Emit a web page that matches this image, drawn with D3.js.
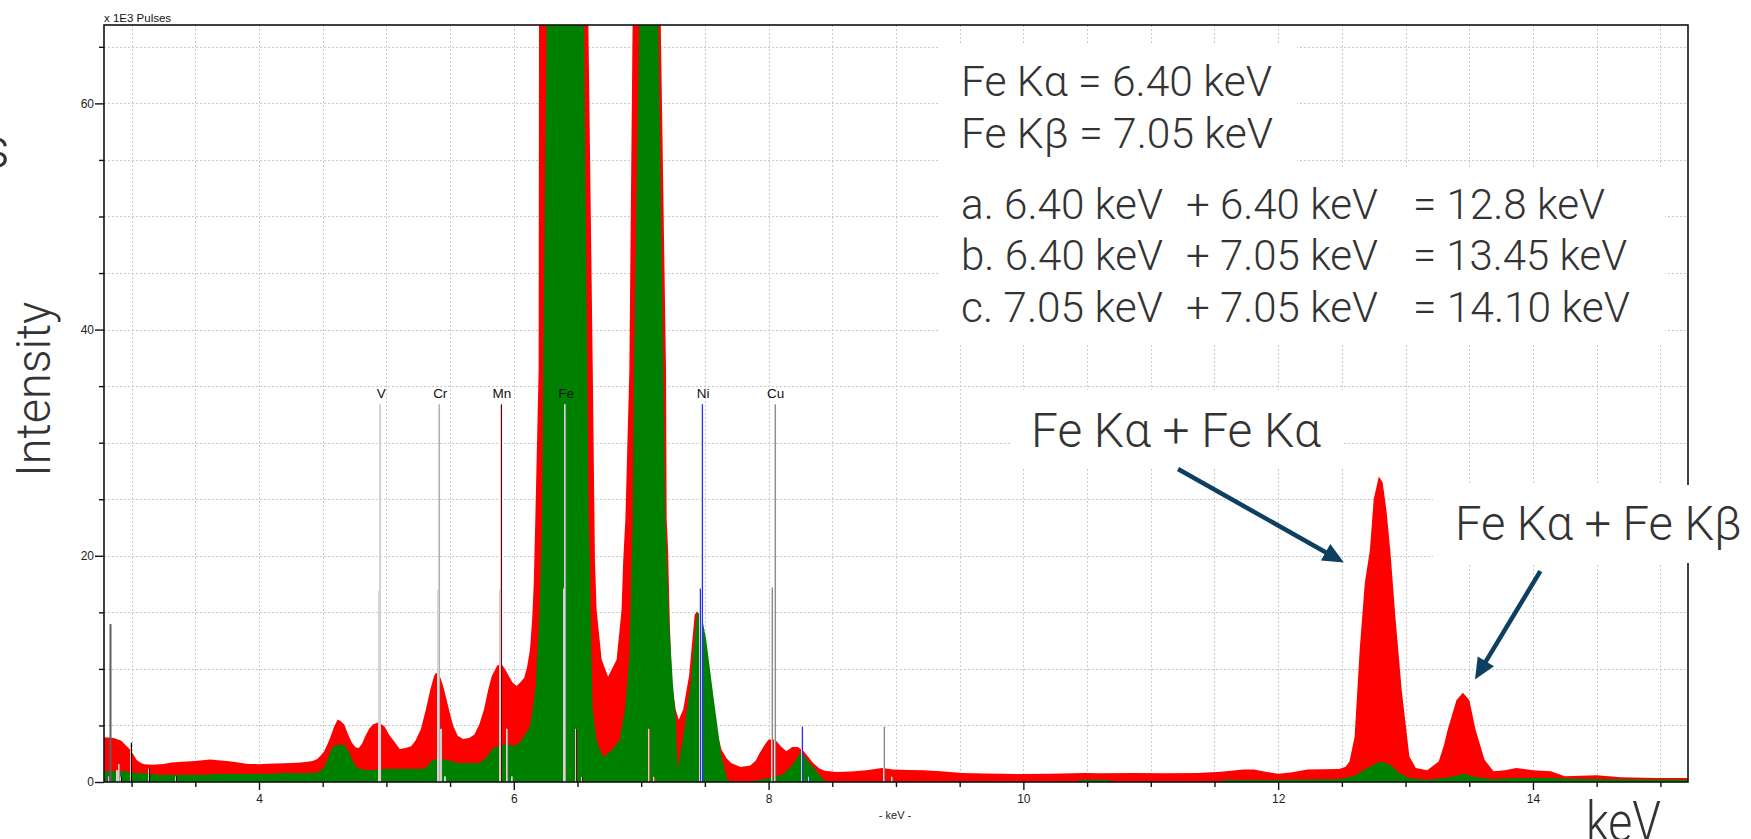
<!DOCTYPE html>
<html><head><meta charset="utf-8">
<script src="https://cdn.jsdelivr.net/npm/d3@7"></script>
<style>
html,body{margin:0;padding:0;background:#fff;overflow:hidden}
svg{display:block}
</style></head><body>
<svg id="chart" width="1751" height="839"></svg>
<script>
// ---------------- DATA ----------------
// Red spectrum (x 1E3 pulses)
const redKeV = [2.783,2.86,2.92,2.95,2.985,3.01,3.04,3.07,3.1,3.165,3.25,3.315,3.4,3.5,3.616,3.7,3.766,3.85,3.917,4.0,4.067,4.2,4.3,4.368,4.42,4.458,4.49,4.512,4.54,4.563,4.59,4.618,4.64,4.669,4.7,4.729,4.76,4.783,4.81,4.834,4.865,4.894,4.939,4.984,5.02,5.06,5.105,5.15,5.195,5.23,5.27,5.31,5.345,5.375,5.39,5.42,5.445,5.466,5.5,5.526,5.56,5.601,5.65,5.691,5.73,5.766,5.8,5.827,5.87,5.902,5.935,5.962,5.99,6.022,6.05,6.082,6.105,6.127,6.145,6.157,6.169,6.195,6.198,6.25,6.4,6.55,6.585,6.62,6.637,6.65,6.69,6.74,6.807,6.846,6.859,6.876,6.907,6.933,6.98,7.05,7.12,7.153,7.195,7.2,7.211,7.225,7.241,7.271,7.295,7.33,7.376,7.42,7.44,7.457,7.496,7.541,7.586,7.63,7.67,7.706,7.78,7.856,7.9,7.93,7.97,8.0,8.05,8.096,8.14,8.186,8.23,8.276,8.32,8.35,8.4,8.44,8.53,8.65,8.77,8.89,8.95,8.98,9.1,9.22,9.35,9.52,9.7,9.97,10.2,10.48,10.6,10.87,11.1,11.37,11.55,11.73,11.81,11.9,12.0,12.1,12.23,12.35,12.48,12.53,12.56,12.6,12.64,12.68,12.72,12.75,12.79,12.82,12.85,12.88,12.92,12.97,13.03,13.08,13.17,13.26,13.3,13.33,13.4,13.45,13.5,13.55,13.62,13.69,13.78,13.87,14.0,14.14,14.25,14.5,14.69,14.97,15.217];
const redCounts = [3.95,3.9,3.65,3.3,2.9,2.5,1.95,1.7,1.58,1.52,1.6,1.72,1.78,1.85,1.98,1.9,1.83,1.7,1.6,1.58,1.62,1.65,1.7,1.77,1.85,2.04,2.4,2.72,3.4,4.05,4.9,5.52,5.4,5.08,4.2,3.46,3.05,3.01,3.4,4.05,4.7,5.08,5.29,4.93,4.2,3.6,2.92,3.0,3.16,3.7,4.64,6.4,8.18,9.4,9.66,9.36,8.5,7.59,6.0,4.93,4.1,3.81,3.9,4.19,5.1,6.41,8.2,9.36,10.3,10.46,9.9,9.36,8.8,8.48,8.8,9.22,10.2,11.7,14.5,17.6,23.2,36.4,67.5,200,330,200,67.5,36.4,19.6,15.2,10.8,9.3,10.8,15.2,19.6,23.2,36.4,67.5,150,180,150,67.5,36.4,23.2,20.6,14,8.8,6.4,5.5,6.4,9.4,14.8,15.1,14.7,12.6,8.8,4.9,2.87,2.1,1.68,1.33,1.45,1.9,2.57,3.3,3.75,3.75,3.16,2.72,3.1,3.1,2.72,2.1,1.68,1.2,1.0,0.89,0.92,1.03,1.24,1.15,1.1,1.05,1.03,0.95,0.8,0.75,0.7,0.72,0.8,0.78,0.8,0.78,0.8,0.9,1.1,1.1,0.9,0.73,0.85,1.1,1.12,1.15,1.35,1.82,4.0,11.7,17.6,20.5,25,27,26.5,24,20.5,14.6,8.1,2.26,1.24,1.03,1.82,3.2,4.6,7.26,7.9,7.26,4.6,1.97,0.94,1.03,1.24,1.03,0.94,0.5,0.59,0.41,0.35,0.35];

// Green spectrum (x 1E3 pulses)
const greenKeV = [2.783,2.95,3.0,3.1,3.2,3.6,3.65,4.1,4.2,4.45,4.51,4.545,4.58,4.62,4.67,4.71,4.74,4.77,4.85,4.95,5.0,5.3,5.36,5.42,5.51,5.57,5.72,5.78,5.81,5.84,5.93,6.007,6.05,6.08,6.127,6.15,6.172,6.2,6.217,6.222,6.231,6.258,6.3,6.4,6.5,6.551,6.577,6.588,6.598,6.603,6.61,6.62,6.65,6.7,6.77,6.83,6.873,6.906,6.917,6.925,6.933,6.943,6.985,7.05,7.134,7.174,7.19,7.22,7.25,7.271,7.286,7.33,7.39,7.436,7.46,7.475,7.51,7.57,7.63,7.676,7.72,7.87,8.0,8.11,8.2,8.255,8.3,8.366,8.43,8.47,10.4,10.45,10.66,10.7,11.55,11.58,12.0,12.48,12.59,12.7,12.8,12.88,12.95,13.03,13.17,13.36,13.45,13.55,13.67,13.86,14.14,14.41,15.217];
const greenCounts = [0.95,0.95,0.82,0.78,0.65,0.65,0.7,0.72,0.8,0.8,1.24,2.2,3.16,3.3,3.3,2.57,1.8,1.24,1.03,1.1,1.18,1.18,1.92,2.07,1.83,1.68,1.68,2.04,2.6,3.0,3.37,3.2,3.5,4.05,4.9,6.5,8.5,14.7,20.6,23.2,36.4,67.5,200,300,200,67.5,36.4,23.2,19.6,15.2,10.8,6.4,3.7,2.2,2.8,3.7,6.4,10.8,15.2,19.6,23.2,36.4,67.5,160,67.5,36.4,23.2,14,8.5,5.8,1.1,4.0,8.8,14.8,15.0,14.7,12.6,7.3,2.27,0.2,0.06,0.06,0.35,0.65,1.68,2.72,1.98,1.1,0.2,0.02,0.02,0.2,0.2,0.02,0.05,0.2,0.2,0.26,0.5,1.24,1.82,1.53,0.8,0.35,0.2,0.44,0.73,0.44,0.26,0.35,0.35,0.26,0.2];

// Element marker lines (keV, height in x 1E3 pulses, group)
const lineKeV    = [2.826,2.828,2.885,2.900,2.920,2.996,3.138,3.350,4.944,5.427,5.457,5.405,5.947,5.986,5.888,6.490,6.535,6.391,7.058,7.100,7.461,8.265,8.315,8.028,8.905,8.970];
const lineHeight = [0.5,13.96,1.05,1.58,0.47,3.47,1.17,0.5,16.9,4.7,0.5,17.0,4.7,0.5,17.0,4.7,0.46,17.1,4.7,0.46,17.1,4.9,0.46,17.2,4.9,0.46];
const lineGroup  = ["m","k","p","q","b","b","b","b","V","V","V","Cr","Cr","Cr","Mn","Mn","Mn","Fe","Fe","Fe","Ni","Ni","Ni","Cu","Cu","Cu"];

// Labelled element lines
const elementNames = ["V","Cr","Mn","Fe","Ni","Cu"];
const elementKeV   = [4.952,5.415,5.899,6.404,7.478,8.048];
const elementLabelHeight = 33.4;

// Axis tick labels
const xTickLabels = [4,6,8,10,12,14];
const yTickLabels = [0,20,40,60];

// Annotation text
const infoLines = ["Fe Kα = 6.40 keV","Fe Kβ = 7.05 keV"];
const sumLabel  = ["a. 6.40 keV","b. 6.40 keV","c. 7.05 keV"];
const sumAdd    = ["+ 6.40 keV","+ 7.05 keV","+ 7.05 keV"];
const sumResult = ["= 12.8 keV","= 13.45 keV","= 14.10 keV"];
const arrowLabels = ["Fe Kα + Fe Kα","Fe Kα + Fe Kβ"];
// arrows in data coordinates: [fromKeV, fromCounts, toKeV, toCounts]
const arrowFromKeV = [11.214, 14.058];
const arrowFromVal = [27.67, 18.65];
const arrowToKeV   = [12.516, 13.545];
const arrowToVal   = [19.4, 9.07];

// ---------------- DRAWING ----------------
const svg = d3.select("#chart");
const plot = {left:104, right:1688, top:25, bottom:782};
const x = d3.scaleLinear().domain([2.7834, 15.217]).range([plot.left, plot.right]);
const y = d3.scaleLinear().domain([0, 66.93]).range([plot.bottom, plot.top]);

const groupColor = {m:"#ff00ff",k:"#5e5e5e",p:"#d9c4c4",q:"#c08a8a",b:"#000000",
  V:"#c8c8c8",Cr:"#a9a9a9",Mn:"#7a0000",Fe:"#d85a48",Ni:"#2a2aff",Cu:"#8c8c8c"};
const labelLineColor = {V:"#cfcfcf",Cr:"#b0b0b0",Mn:"#7a0000",Fe:"#d85a48",Ni:"#2a2aff",Cu:"#8c8c8c"};

svg.append("defs").append("clipPath").attr("id","clip")
  .append("rect").attr("x",plot.left).attr("y",plot.top)
  .attr("width",plot.right-plot.left).attr("height",plot.bottom-plot.top);

// grid
const grid = svg.append("g").attr("stroke","#c9c9c9").attr("stroke-width",1).attr("stroke-dasharray","2,2");
d3.range(3, 15.01, 0.5).forEach(v=>{
  const px = Math.round(x(v))+0.5;
  grid.append("line").attr("x1",px).attr("x2",px).attr("y1",plot.top).attr("y2",plot.bottom);
});
d3.range(5, 66, 5).forEach(v=>{
  const py = Math.round(y(v))+0.5;
  grid.append("line").attr("x1",plot.left).attr("x2",plot.right).attr("y1",py).attr("y2",py);
});

// areas
const area = d3.area().x(d=>x(d[0])).y0(y(0)).y1(d=>y(d[1]));
const dataG = svg.append("g").attr("clip-path","url(#clip)");
dataG.append("path").datum(redKeV.map((k,i)=>[k,redCounts[i]])).attr("d",area).attr("fill","#ff0000");
dataG.append("path").datum(greenKeV.map((k,i)=>[k,greenCounts[i]])).attr("d",area).attr("fill","#008000");

// marker lines
const mk = svg.append("g").attr("clip-path","url(#clip)");
function marker(k, h, color, wide){
  const px = Math.round(x(k));
  if(!wide){
    mk.append("line").attr("x1",px-0.5).attr("x2",px-0.5).attr("y1",y(0)).attr("y2",y(h))
      .attr("stroke","#d6d6d6").attr("stroke-width",1);
    mk.append("line").attr("x1",px+0.5).attr("x2",px+0.5).attr("y1",y(0)).attr("y2",y(h))
      .attr("stroke",color).attr("stroke-width",1.1);
  } else {
    mk.append("line").attr("x1",px+0.5).attr("x2",px+0.5).attr("y1",y(0)).attr("y2",y(h))
      .attr("stroke",color).attr("stroke-width",2);
  }
}
lineKeV.forEach((k,i)=>marker(k, lineHeight[i], groupColor[lineGroup[i]], lineGroup[i]==="k"));
elementKeV.forEach((k,i)=>{
  const nm = elementNames[i];
  marker(k, elementLabelHeight, nm==="Fe" ? "#a8a8a8" : labelLineColor[nm], false);
});
svg.append("g").selectAll("text").data(elementNames).join("text")
  .attr("x",(d,i)=>x(elementKeV[i])+1).attr("y",y(elementLabelHeight)-6.7)
  .attr("text-anchor","middle").attr("font-family","'Liberation Sans',Arial,sans-serif")
  .attr("font-size",13.5).attr("fill","#111").text(d=>d);

// frame
const frame = svg.append("g").attr("stroke","#111").attr("stroke-width",1.6).attr("fill","none");
frame.append("rect").attr("x",plot.left).attr("y",plot.top)
  .attr("width",plot.right-plot.left).attr("height",plot.bottom-plot.top);

// axes via d3
const fontAx = "'Liberation Sans',Arial,sans-serif";
const yAxis = svg.append("g").attr("transform",`translate(${plot.left},0)`)
  .call(d3.axisLeft(y).tickValues(yTickLabels).tickSize(9).tickPadding(1).tickSizeOuter(0).tickFormat(d3.format("d")));
const yMinor = svg.append("g").attr("transform",`translate(${plot.left},0)`)
  .call(d3.axisLeft(y).tickValues(d3.range(5,66,5).filter(v=>v%20!==0)).tickSize(5).tickSizeOuter(0).tickFormat(""));
const xAxis = svg.append("g").attr("transform",`translate(0,${plot.bottom})`)
  .call(d3.axisBottom(x).tickValues(xTickLabels).tickSize(8).tickPadding(4).tickSizeOuter(0).tickFormat(d3.format("d")));
const xMinor = svg.append("g").attr("transform",`translate(0,${plot.bottom})`)
  .call(d3.axisBottom(x).tickValues(d3.range(3,15.01,0.5).filter(v=>v%2!==0)).tickSize(5).tickSizeOuter(0).tickFormat(""));
[yAxis,yMinor,xAxis,xMinor].forEach(g=>{
  g.select(".domain").remove();
  g.selectAll("line").attr("stroke","#111").attr("stroke-width",1.4);
  g.selectAll("text").attr("font-family",fontAx).attr("font-size",12).attr("fill","#222");
});

svg.append("text").attr("x",plot.left).attr("y",21.5).attr("font-family",fontAx)
  .attr("font-size",11.5).attr("fill","#111").text("x 1E3 Pulses");
svg.append("text").attr("x",895).attr("y",819).attr("text-anchor","middle").attr("font-family",fontAx)
  .attr("font-size",11).attr("fill","#222").text("- keV -");

// white annotation boxes
const boxes = svg.append("g").attr("fill","#fff");
boxes.append("rect").attr("x",940).attr("y",43).attr("width",357).attr("height",300);
boxes.append("rect").attr("x",939).attr("y",167).attr("width",726).attr("height",176);
boxes.append("rect").attr("x",1010).attr("y",390).attr("width",334).attr("height",78);
boxes.append("rect").attr("x",1433).attr("y",485).attr("width",318).attr("height",78);

// annotation text
const annFont = "Roboto, 'Noto Sans', sans-serif";
const ann = svg.append("g").attr("font-family",annFont).attr("font-weight",300).attr("fill","#333");
function t(str, px, py, size, len){
  const e = ann.append("text").attr("x",px).attr("y",py).attr("font-size",size).text(str);
  if(len) e.attr("textLength",len).attr("lengthAdjust","spacingAndGlyphs");
  return e;
}
t(infoLines[0], 961, 96, 43, 311);
t(infoLines[1], 961, 147.5, 43, 312);
const rowY = [219, 270, 321.7];
const endRes = [1605, 1627, 1630];
sumLabel.forEach((s,i)=>{
  t(s, 961, rowY[i], 43, 202);
  t(sumAdd[i], 1186, rowY[i], 43, 192);
  t(sumResult[i], 1413, rowY[i], 43, endRes[i]-1413);
});
t(arrowLabels[0], 1031, 446.7, 48, 290);
t(arrowLabels[1], 1455, 540, 48, 287);

// axis titles (large)
ann.append("text").attr("transform","translate(50,476.7) rotate(-90)").attr("font-size",49)
  .attr("textLength",175).attr("lengthAdjust","spacingAndGlyphs").text("Intensity");
ann.append("text").attr("x",10).attr("y",167).attr("text-anchor","end").attr("font-size",55).text("s");
t("keV", 1586, 841, 56, 75);

// arrows
const arrowG = svg.append("g");
arrowFromKeV.forEach((k,i)=>{
  const x1=x(k), y1=y(arrowFromVal[i]), x2=x(arrowToKeV[i]), y2=y(arrowToVal[i]);
  const dx=x2-x1, dy=y2-y1, L=Math.hypot(dx,dy), ux=dx/L, uy=dy/L;
  const hl=21, hw=9.5;
  const bx=x2-ux*hl, by=y2-uy*hl;
  arrowG.append("line").attr("x1",x1).attr("y1",y1).attr("x2",bx+ux*2).attr("y2",by+uy*2)
    .attr("stroke","#0d3f61").attr("stroke-width",4.5);
  arrowG.append("path").attr("d",`M${x2},${y2}L${bx-uy*hw},${by+ux*hw}L${bx+uy*hw},${by-ux*hw}Z`)
    .attr("fill","#0d3f61");
});
</script>
</body></html>
